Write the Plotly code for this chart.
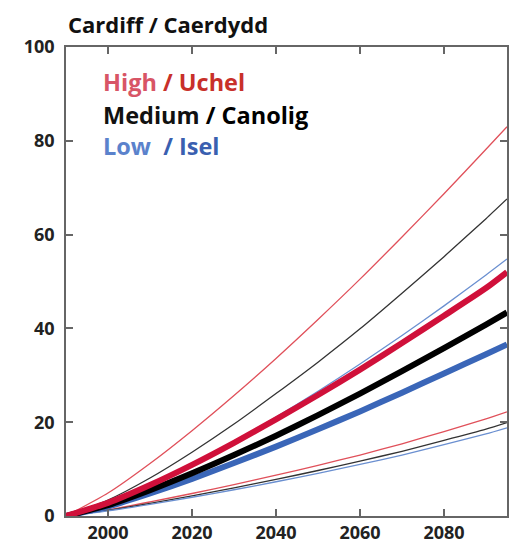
import plotly.graph_objects as go

years = [1990, 2000, 2010, 2020, 2030, 2040, 2050, 2060, 2070, 2080, 2090, 2095]

high_mid = [0, 2.8, 6.6, 10.9, 15.6, 20.6, 25.8, 31.2, 36.9, 42.7, 48.6, 52.0]
high_up = [0, 4.9, 11.2, 18.2, 25.7, 33.6, 41.9, 50.5, 59.5, 68.7, 78.2, 83.0]
high_lo = [0, 1.3, 3.0, 4.8, 6.7, 8.7, 10.8, 13.0, 15.4, 18.0, 20.7, 22.2]

med_mid = [0, 2.3, 5.5, 9.1, 13.0, 17.1, 21.5, 26.1, 30.9, 35.8, 40.8, 43.4]
med_up = [0, 3.4, 8.1, 13.6, 19.6, 26.1, 32.8, 39.9, 47.5, 55.3, 63.4, 67.6]
med_lo = [0, 1.2, 2.7, 4.3, 6.0, 7.8, 9.7, 11.7, 13.8, 16.1, 18.5, 19.9]

low_mid = [0, 2.0, 4.8, 7.9, 11.3, 14.8, 18.5, 22.3, 26.3, 30.4, 34.5, 36.6]
low_up = [0, 2.7, 6.6, 11.1, 15.9, 21.1, 26.6, 32.4, 38.5, 44.8, 51.4, 54.8]
low_lo = [0, 1.1, 2.5, 4.0, 5.6, 7.3, 9.1, 11.0, 13.0, 15.2, 17.5, 18.8]

x_ticks = [2000, 2020, 2040, 2060, 2080]
y_ticks = [0, 20, 40, 60, 80, 100]

RED = "#d0103a"
RED_T = "#e0505a"
BLACK = "#000000"
BLACK_T = "#333333"
BLUE = "#3a66b8"
BLUE_T = "#6a8fd0"

fig = go.Figure()

def add(y, color, width):
    fig.add_trace(go.Scatter(x=years, y=y, mode="lines",
                             line=dict(color=color, width=width, shape="spline", smoothing=0.6),
                             showlegend=False, hoverinfo="skip"))

# thin bounds
add(high_lo, RED_T, 1.3)
add(med_lo, BLACK_T, 1.3)
add(low_lo, BLUE_T, 1.3)
add(high_up, RED_T, 1.3)
add(med_up, BLACK_T, 1.3)
add(low_up, BLUE_T, 1.3)
# thick central lines
add(low_mid, BLUE, 6)
add(med_mid, BLACK, 6)
add(high_mid, RED, 6)

font_fam = "Open Sans, Lato, sans-serif"

fig.update_layout(
    width=510, height=548,
    margin=dict(l=66, r=1, t=47, b=32),
    paper_bgcolor="white", plot_bgcolor="white",
    font=dict(family=font_fam, color="#222"),
    xaxis=dict(range=[1990, 2095], tickvals=x_ticks, ticks="inside", ticklen=7,
               tickcolor="#666", tickwidth=1.5, showgrid=False, zeroline=False,
               showline=True, linecolor="#666", linewidth=1.5, mirror="ticks",
               tickfont=dict(size=18, family=font_fam, color="#222", weight="bold")),
    yaxis=dict(range=[0, 100], tickvals=y_ticks, ticks="inside", ticklen=7,
               tickcolor="#666", tickwidth=1.5, showgrid=False, zeroline=False,
               showline=True, linecolor="#666", linewidth=1.5, mirror="ticks",
               ticklabelstandoff=6,
               tickfont=dict(size=18, family=font_fam, color="#222", weight="bold")),
)

fig.add_annotation(xref="paper", yref="paper", x=0, y=1.0, yshift=6,
                   xanchor="left", yanchor="bottom", showarrow=False,
                   text="<b>Cardiff / Caerdydd</b>",
                   font=dict(size=22, family=font_fam, color="#111"))

legend_lines = [
    ("<b><span style='color:#d85566'>High</span> <span style='color:#c8302a'>/ Uchel</span></b>", 82),
    ("<b><span style='color:#111'>Medium</span> <span style='color:#000'>/ Canolig</span></b>", 115),
    ("<b><span style='color:#5b82cc'>Low</span>  <span style='color:#3a5fb0'>/ Isel</span></b>", 146),
]
for txt, ypix in legend_lines:
    fig.add_annotation(xref="paper", yref="paper",
                       x=(101 - 66) / 443, y=1 - (ypix - 47) / 469,
                       xanchor="left", yanchor="middle", showarrow=False,
                       text=txt, font=dict(size=23.5, family=font_fam))

fig.write_html("out.html", config={"displayModeBar": False},
               post_script="document.body.style.margin='0';")
